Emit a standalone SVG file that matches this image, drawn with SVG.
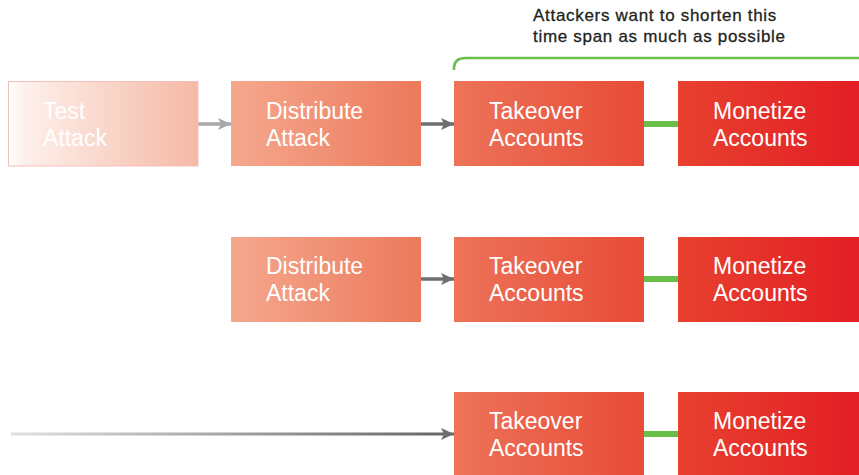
<svg xmlns="http://www.w3.org/2000/svg" width="859" height="475" viewBox="0 0 859 475">
<defs>
<linearGradient id="gTest" x1="0" y1="0" x2="1" y2="0"><stop offset="0" stop-color="#ffffff"/><stop offset="0.08" stop-color="#fdf0eb"/><stop offset="1" stop-color="#f5b9a5"/></linearGradient>
<linearGradient id="gDist" x1="0" y1="0" x2="1" y2="0"><stop offset="0" stop-color="#f5a88e"/><stop offset="1" stop-color="#ec795c"/></linearGradient>
<linearGradient id="gTake" x1="0" y1="0" x2="1" y2="0"><stop offset="0" stop-color="#ed7359"/><stop offset="1" stop-color="#e84b37"/></linearGradient>
<linearGradient id="gMon" x1="0" y1="0" x2="1" y2="0"><stop offset="0" stop-color="#e8412f"/><stop offset="1" stop-color="#e31e24"/></linearGradient>
<linearGradient id="gLine" gradientUnits="userSpaceOnUse" x1="11" y1="0" x2="445" y2="0"><stop offset="0" stop-color="#e0e0e0"/><stop offset="1" stop-color="#666666"/></linearGradient>
<marker id="ahLight" markerUnits="userSpaceOnUse" markerWidth="13" markerHeight="12" refX="13" refY="6" orient="auto"><path d="M0,0 L13,6 L0,12 L3,6 Z" fill="#a7a9ab"/></marker>
<marker id="ahDark" markerUnits="userSpaceOnUse" markerWidth="13" markerHeight="12" refX="13" refY="6" orient="auto"><path d="M0,0 L13,6 L0,12 L3,6 Z" fill="#6d6e70"/></marker>
</defs>
<style>
.lbl{font-family:"Liberation Sans",Arial,sans-serif;font-size:23px;fill:#ffffff}
.note{font-family:"Liberation Sans",Arial,sans-serif;font-size:17px;letter-spacing:0.7px;fill:#231f20;stroke:#231f20;stroke-width:0.3}
.grn{stroke:#6abf4b;stroke-width:6}
</style>
<g id="connectors" fill="none">
<line x1="198" y1="124" x2="231" y2="124" stroke="#a7a9ab" stroke-width="3.5" marker-end="url(#ahLight)"/>
<line x1="421" y1="124" x2="454" y2="124" stroke="#6d6e70" stroke-width="3.5" marker-end="url(#ahDark)"/>
<line x1="421" y1="279" x2="454" y2="279" stroke="#6d6e70" stroke-width="3.5" marker-end="url(#ahDark)"/>
<line x1="11" y1="434" x2="454" y2="434" stroke="url(#gLine)" stroke-width="3" marker-end="url(#ahDark)"/>
<line class="grn" x1="644" y1="124" x2="678" y2="124"/>
<line class="grn" x1="644" y1="279" x2="678" y2="279"/>
<line class="grn" x1="644" y1="434" x2="678" y2="434"/>
<path d="M454,70 V68 Q454,58 466,58 H859" stroke="#6abf4b" stroke-width="2.5"/>
</g>
<g id="note">
<text class="note" x="533" y="21">Attackers want to shorten this</text>
<text class="note" x="533" y="42">time span as much as possible</text>
</g>
<g id="test1"><rect x="8.5" y="81.5" width="189.5" height="84.5" fill="url(#gTest)" stroke="#f6c0b8" stroke-width="1"/><text class="lbl" x="43" y="119">Test</text><text class="lbl" x="43" y="146">Attack</text></g>
<g id="dist1"><rect x="231" y="81" width="190" height="85" fill="url(#gDist)"/><text class="lbl" x="266" y="119">Distribute</text><text class="lbl" x="266" y="146">Attack</text></g>
<g id="take1"><rect x="454" y="81" width="190" height="85" fill="url(#gTake)"/><text class="lbl" x="489" y="119">Takeover</text><text class="lbl" x="489" y="146">Accounts</text></g>
<g id="mon1"><rect x="678" y="81" width="181" height="85" fill="url(#gMon)"/><text class="lbl" x="713" y="119">Monetize</text><text class="lbl" x="713" y="146">Accounts</text></g>
<g id="dist2"><rect x="231" y="237" width="190" height="85" fill="url(#gDist)"/><text class="lbl" x="266" y="274">Distribute</text><text class="lbl" x="266" y="301">Attack</text></g>
<g id="take2"><rect x="454" y="237" width="190" height="85" fill="url(#gTake)"/><text class="lbl" x="489" y="274">Takeover</text><text class="lbl" x="489" y="301">Accounts</text></g>
<g id="mon2"><rect x="678" y="237" width="181" height="85" fill="url(#gMon)"/><text class="lbl" x="713" y="274">Monetize</text><text class="lbl" x="713" y="301">Accounts</text></g>
<g id="take3"><rect x="454" y="392" width="190" height="85" fill="url(#gTake)"/><text class="lbl" x="489" y="429">Takeover</text><text class="lbl" x="489" y="456">Accounts</text></g>
<g id="mon3"><rect x="678" y="392" width="181" height="85" fill="url(#gMon)"/><text class="lbl" x="713" y="429">Monetize</text><text class="lbl" x="713" y="456">Accounts</text></g>
</svg>
